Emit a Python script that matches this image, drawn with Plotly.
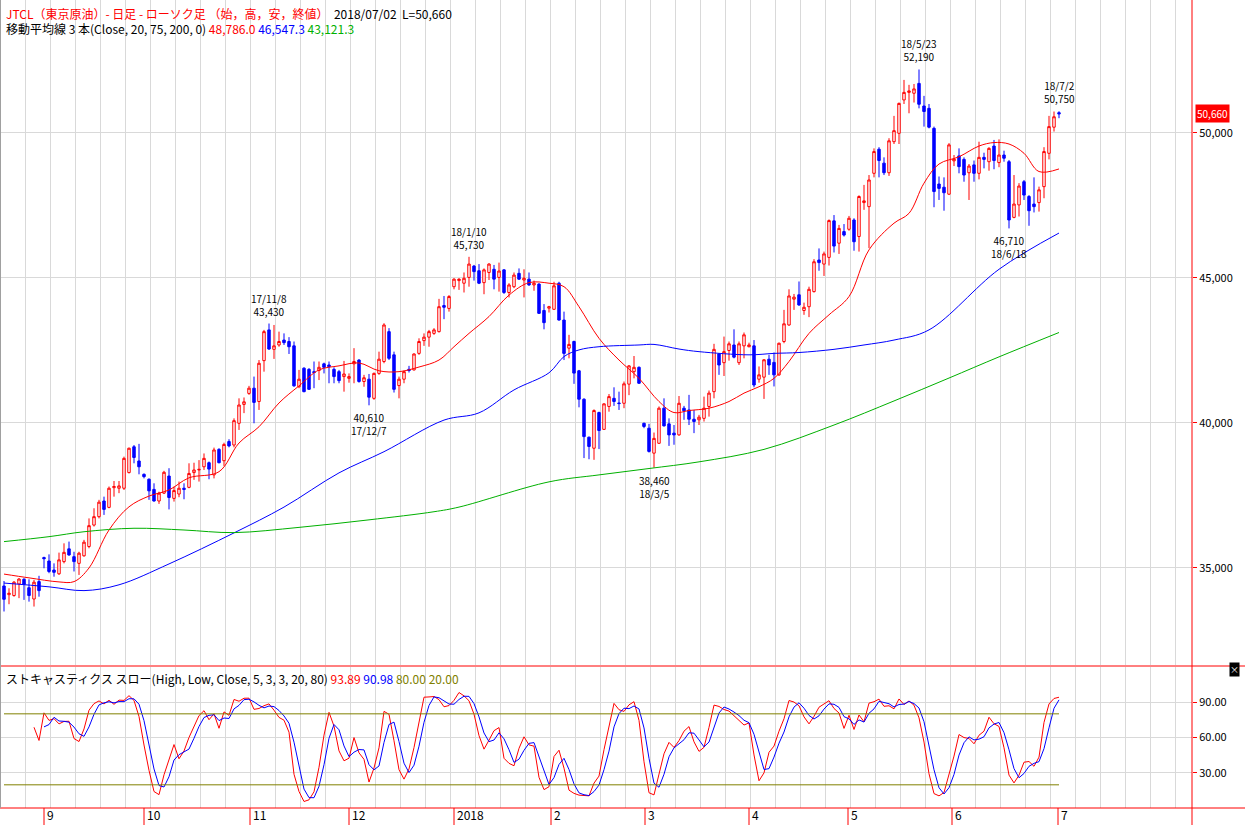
import numpy as np
import plotly.graph_objects as go

# --- daily candles (index 0 = 2017/08/21 ... last = 2018/07/02) ---
OPEN = [34380, 34080, 34050, 34450, 34610, 34320, 33930, 34530, 35360, 35240,
        34930, 34800, 35220, 35660, 35390, 35160, 35420, 35740, 36480, 36770,
        37310, 37090, 37770, 37750, 37750, 38290, 39180, 38690, 38230, 38060,
        37710, 37310, 37580, 38170, 37400, 37550, 37750, 37780, 38290, 38380,
        38490, 38630, 38210, 39090, 38700, 39360, 39240, 39990, 40640, 41020,
        41200, 40740, 42150, 43210, 42540, 42690, 42860, 42810, 42660, 41250,
        41890, 41850, 41770, 41810, 42040, 42000, 41850, 41770, 41600, 41540,
        42040, 42170, 41430, 41510, 40850, 41710, 42120, 43150, 42350, 41290,
        41510, 41850, 41830, 42400, 42840, 42960, 43090, 43150, 44050, 43950,
        44700, 44910, 44820, 45020, 45410, 45250, 44840, 45190, 45300, 45020,
        45280, 44500, 44700, 45160, 44930, 44960, 44760, 44790, 43880, 43960,
        43920, 44820, 43550, 42580, 42810, 41800, 40820, 39510, 39130, 40360,
        39780, 40570, 40850, 40690, 40680, 41340, 41770, 41920, 39990, 39820,
        38960, 39300, 40510, 39970, 39650, 39590, 40510, 40450, 40130, 40110,
        40160, 40570, 41080, 42380, 42080, 42500, 42690, 42080, 42660, 42630,
        42660, 41510, 41580, 42200, 42090, 41660, 42810, 43380, 44270, 44420,
        43880, 44010, 44530, 45620, 45480, 45710, 46970, 46200, 46600, 46680,
        47000, 46430, 47600, 47460, 48610, 49440, 48960, 48630, 49700, 49990,
        51140, 51400, 51370, 51710, 50930, 50850, 50160, 48240, 48130, 47890,
        49040, 49210, 49090, 48630, 48900, 48610, 49160, 49010, 49550, 48980,
        49240, 49010, 47090, 47520, 48320, 47810, 47550, 47600, 48150, 49300,
        50200, 50700]
HIGH = [34550, 34300, 34550, 34650, 34650, 34610, 34590, 34730, 35390, 35470,
        35160, 35530, 35850, 35910, 35560, 35560, 35970, 36710, 37060, 37350,
        37460, 37810, 38000, 38000, 38840, 39150, 39240, 39280, 38260, 38090,
        37920, 37630, 38350, 38440, 37810, 37980, 37920, 38610, 38630, 38720,
        38950, 38670, 39150, 39130, 39320, 39440, 40160, 40850, 40880, 41280,
        41600, 42170, 43210, 43430, 43380, 43150, 43090, 42960, 42810, 41830,
        41920, 41890, 42120, 42120, 42080, 42120, 41920, 41830, 42140, 41710,
        42580, 42200, 41660, 41690, 41740, 42460, 43440, 43270, 42460, 41600,
        41810, 41970, 42400, 42920, 43090, 43210, 43270, 44280, 44380, 44410,
        44990, 44990, 45190, 45730, 45450, 45480, 45330, 45510, 45450, 45530,
        45300, 44820, 45190, 45330, 45300, 45190, 44910, 44820, 44100, 44040,
        44870, 44870, 43840, 43040, 42840, 41830, 40850, 39530, 40470, 40390,
        40680, 41000, 41230, 41080, 41430, 42000, 42310, 41950, 40010, 39970,
        39670, 40570, 40850, 40160, 39930, 40930, 40590, 40970, 40450, 40280,
        40910, 41120, 42730, 42410, 42980, 42810, 43230, 42810, 43120, 42770,
        42860, 41950, 42200, 42350, 42430, 42770, 43900, 44610, 44450, 44880,
        44150, 44700, 45650, 46020, 45910, 47020, 47170, 46830, 46860, 47140,
        47060, 47850, 48210, 48550, 49470, 49510, 49160, 49820, 50590, 51050,
        51830, 51660, 51690, 52190, 51280, 51000, 50220, 48500, 48470, 49650,
        49240, 49470, 49160, 48930, 49050, 49700, 49320, 49510, 49760, 49780,
        49390, 49070, 48550, 48270, 48380, 47860, 48470, 48150, 49510, 50590,
        50740, 50750]
LOW = [33500, 33750, 34010, 33960, 33900, 33840, 33670, 34010, 34990, 34820,
       34700, 34760, 35160, 35420, 34880, 34760, 35390, 35680, 36430, 36710,
       36830, 37060, 37460, 37580, 37690, 38260, 38610, 38230, 38090, 37350,
       37290, 37210, 37550, 37020, 37290, 37440, 37370, 37750, 38040, 37980,
       38380, 38060, 38090, 38610, 38520, 39160, 39160, 39760, 40340, 40970,
       39990, 40450, 41770, 42520, 42210, 42630, 42690, 42380, 41250, 41200,
       41060, 41140, 41200, 41480, 41710, 41370, 41370, 41370, 41080, 41390,
       41370, 41390, 41250, 40610, 40800, 41660, 42060, 42170, 41050, 40850,
       41370, 41740, 41810, 42350, 42660, 42630, 43040, 43120, 43580, 43840,
       44610, 44590, 44500, 44700, 44910, 44790, 44440, 44930, 44610, 44530,
       44450, 44330, 44650, 44930, 44330, 44730, 44560, 43760, 43230, 43810,
       43900, 43530, 42170, 42230, 41350, 40540, 38790, 38750, 38730, 39100,
       39760, 40390, 40590, 40450, 40510, 40960, 41540, 41350, 39820, 38980,
       38460, 39280, 39880, 39210, 39250, 39560, 40110, 39930, 39650, 39930,
       40050, 40220, 40850, 41660, 41620, 42150, 42230, 42000, 42230, 42610,
       41230, 41390, 40830, 41660, 41260, 41620, 42750, 43350, 43900, 44040,
       43730, 43650, 44500, 45250, 45070, 45430, 45880, 45830, 46430, 46630,
       45940, 45910, 47350, 46030, 48470, 48470, 48550, 48520, 49620, 49620,
       51000, 50680, 51050, 50850, 50220, 50160, 47440, 47690, 47320, 47860,
       48860, 48610, 48320, 47690, 48320, 48400, 48780, 48700, 48750, 48820,
       49010, 46710, 47060, 47120, 47690, 46800, 47260, 47290, 47750, 49090,
       50050, 50510]
CLOSE = [33920, 34130, 34510, 34620, 34440, 34050, 34510, 34220, 35320, 34880,
         34850, 35280, 35540, 35450, 35220, 35510, 35890, 36460, 36770, 37270,
         37020, 37750, 37810, 37830, 38780, 39130, 38810, 38490, 38150, 37660,
         37310, 37580, 38300, 37430, 37670, 37750, 37710, 38260, 38380, 38400,
         38780, 38410, 39070, 38630, 39260, 39210, 40080, 40620, 40730, 41200,
         40710, 42060, 43150, 42550, 42660, 42810, 42770, 42630, 41280, 41510,
         41080, 41160, 41740, 41920, 41920, 41940, 41600, 41460, 41690, 41600,
         42120, 41430, 41560, 40890, 41710, 42200, 43380, 42230, 41160, 41510,
         41770, 41810, 42380, 42810, 42960, 43150, 43210, 44010, 43990, 44360,
         44960, 44960, 44990, 45480, 45220, 44820, 45280, 45480, 44960, 45240,
         44500, 44760, 45100, 44960, 44990, 44760, 44820, 43780, 43460, 44010,
         44730, 43550, 42400, 42710, 41720, 40820, 39530, 39190, 40430, 39740,
         40660, 40910, 40740, 40670, 41350, 41970, 41920, 41370, 39880, 39020,
         39470, 40510, 39900, 39590, 39590, 40680, 40420, 40130, 40050, 40200,
         40510, 41030, 42540, 42000, 42460, 42730, 42270, 42730, 43040, 42690,
         41310, 41660, 42180, 42000, 41660, 42750, 43420, 44380, 44340, 44070,
         43990, 44610, 45560, 45530, 45830, 46980, 46100, 46710, 46480, 47060,
         46250, 47810, 47660, 48380, 49360, 49050, 48630, 49730, 50080, 51020,
         51400, 51450, 51520, 50990, 50740, 50200, 47980, 48090, 47940, 49590,
         49100, 48840, 48550, 48860, 48610, 49160, 49090, 49470, 49050, 49240,
         49130, 47000, 47550, 48170, 47860, 47320, 47460, 48040, 49360, 50220,
         50560, 50660]

# --- moving averages (candle index, value) ---
MA20_IDX = [0, 5, 11, 14, 17, 21, 25, 29, 33, 37, 43, 47, 51, 55, 59, 63, 67, 71, 75, 79,
            83, 87, 90, 93, 97, 101, 105, 109, 112, 115, 119, 123, 127, 131, 134, 137,
            141, 145, 148, 151, 154, 157, 161, 165, 169, 173, 178, 181, 184, 187, 191,
            195, 198, 201, 204, 207, 211]
MA20_VAL = [34790, 34660, 34520, 34530, 35000, 36310, 37110, 37480, 37690, 38110,
            38320, 39310, 39870, 40690, 41280, 41830, 41970, 42070, 41800, 41770,
            41930, 42170, 42630, 43090, 43670, 44410, 44840, 44820, 44700, 44010,
            42920, 42170, 41540, 40740, 40360, 40430, 40510, 40740, 41030, 41250,
            41540, 42120, 43090, 43730, 44360, 45970, 46890, 47230, 48270, 48930,
            49180, 49550, 49670, 49620, 49300, 48670, 48760]
MA75_IDX = [0, 9, 16, 23, 33, 46, 56, 67, 76, 88, 95, 102, 109, 112, 115, 119, 127, 130,
            135, 139, 149, 154, 159, 166, 172, 178, 185, 199, 211]
MA75_VAL = [34480, 34350, 34220, 34420, 35140, 36210, 37100, 38280, 39010, 40100,
            40350, 41140, 41730, 42290, 42520, 42630, 42690, 42710, 42550, 42460,
            42350, 42400, 42430, 42540, 42690, 42860, 43210, 45300, 46550]
MA200_IDX = [0, 9, 16, 26, 36, 46, 59, 73, 86, 91, 109, 119, 129, 139, 152, 166, 178,
             189, 199, 211]
MA200_VAL = [35910, 36080, 36250, 36370, 36310, 36220, 36400, 36660, 36940, 37100,
             37970, 38210, 38430, 38660, 39090, 39930, 40760, 41550, 42280, 43120]

# --- labels ---
MONTH_LABELS = ["9", "10", "11", "12", "2018", "2", "3", "4", "5", "6", "7"]
MONTH_IDX = [8, 28, 49.2, 69, 90, 109.4, 128.2, 149, 168.8, 189.6, 210.8]
PEAKS = [  # (candle index, date, value, above?)
    (53, "17/11/8", "43,430", True),
    (73, "17/12/7", "40,610", False),
    (93, "18/1/10", "45,730", True),
    (130, "18/3/5", "38,460", False),
    (183, "18/5/23", "52,190", True),
    (201, "18/6/18", "46,710", False),
    (211, "18/7/2", "50,750", True),
]

W, H = 1245, 825
FONT = "Noto Sans CJK JP"
GRID = "#d9d9d9"
n = len(CLOSE)
x = np.arange(n)
Y_RANGE = [31655, 54586]
MAIN_TOP, MAIN_BOT = 0, 665  # pixel rows of the price panel

# slow stochastic (5, 3, 3)
hi = np.array(HIGH, float); lo = np.array(LOW, float); cl = np.array(CLOSE, float)
num = np.full(n, np.nan); den = np.full(n, np.nan)
for i in range(4, n):
    ll = lo[i - 4:i + 1].min(); hh = hi[i - 4:i + 1].max()
    num[i] = cl[i] - ll; den[i] = hh - ll
pct_d = np.full(n, np.nan)
for i in range(6, n):
    pct_d[i] = 100 * num[i - 2:i + 1].sum() / den[i - 2:i + 1].sum()
slow_d = np.full(n, np.nan)
for i in range(8, n):
    slow_d[i] = pct_d[i - 2:i + 1].mean()

fig = go.Figure()
fig.add_trace(go.Candlestick(
    x=x, open=OPEN, high=HIGH, low=LOW, close=CLOSE,
    increasing=dict(line=dict(color="#ff0000", width=1), fillcolor="#ffffff"),
    decreasing=dict(line=dict(color="#0000ff", width=1), fillcolor="#0000ff"),
    whiskerwidth=0, showlegend=False, hoverinfo="skip",
))
for idx, val, col in [(MA20_IDX, MA20_VAL, "#ff0000"), (MA75_IDX, MA75_VAL, "#0000ff"),
                      (MA200_IDX, MA200_VAL, "#00b000")]:
    fig.add_trace(go.Scatter(x=idx, y=val, mode="lines", line=dict(color=col, width=1, shape="spline"),
                             showlegend=False, hoverinfo="skip"))

fig.add_trace(go.Scatter(x=x, y=pct_d, mode="lines", line=dict(color="#ff0000", width=1),
                         xaxis="x2", yaxis="y2", showlegend=False, hoverinfo="skip"))
fig.add_trace(go.Scatter(x=x, y=slow_d, mode="lines", line=dict(color="#0000ff", width=1),
                         xaxis="x2", yaxis="y2", showlegend=False, hoverinfo="skip"))
for lvl in (80, 20):
    fig.add_trace(go.Scatter(x=[0, n - 1], y=[lvl, lvl], mode="lines",
                             line=dict(color="#808000", width=1),
                             xaxis="x2", yaxis="y2", showlegend=False, hoverinfo="skip"))

xd = [0, 1192 / W]
xr = [-0.8, 237.6]
xcommon = dict(range=xr, domain=xd, showgrid=True, gridcolor=GRID, gridwidth=1,
               tick0=4.2, dtick=5, showticklabels=False, zeroline=False, ticks="")
fig.update_layout(
    width=W, height=H, margin=dict(l=0, r=0, t=0, b=0),
    paper_bgcolor="white", plot_bgcolor="white",
    font=dict(family=FONT, size=11, color="black"),
    xaxis=dict(**xcommon, rangeslider=dict(visible=False)),
    yaxis=dict(domain=[1 - MAIN_BOT / H, 1], range=Y_RANGE, side="right",
               tickvals=[35000, 40000, 45000, 50000], tickformat=",",
               showgrid=True, gridcolor=GRID, zeroline=False,
               ticks="outside", ticklen=4, tickcolor="#ff0000",
               tickfont=dict(family=FONT, size=11)),
    xaxis2=dict(**xcommon, anchor="y2"),
    yaxis2=dict(domain=[(H - 808) / H, (H - 667) / H], range=[0.4, 119.6], side="right",
                anchor="x2", tickvals=[30, 60, 90], tickformat=".2f",
                showgrid=True, gridcolor=GRID, zeroline=False,
                ticks="outside", ticklen=4, tickcolor="#ff0000",
                tickfont=dict(family=FONT, size=11)),
)

# paper y of last close (the price box sits outside the plot area)
frac = (CLOSE[-1] - Y_RANGE[0]) / (Y_RANGE[1] - Y_RANGE[0])
last_py = (1 - MAIN_BOT / H) + frac * (MAIN_BOT - MAIN_TOP) / H

shapes = []
red = dict(color="#ff0000", width=1)
shapes.append(dict(type="line", xref="paper", yref="paper", x0=0, x1=1,
                   y0=1 - 666 / H, y1=1 - 666 / H, line=red))
shapes.append(dict(type="line", xref="paper", yref="paper", x0=0, x1=1,
                   y0=1 - 808 / H, y1=1 - 808 / H, line=red))
shapes.append(dict(type="line", xref="paper", yref="paper", x0=1192 / W, x1=1192 / W,
                   y0=0, y1=1, line=red))
shapes.append(dict(type="line", xref="paper", yref="paper", x0=0.5 / W, x1=0.5 / W,
                   y0=1 - 808 / H, y1=1, line=dict(color="#a0a0a0", width=1)))
for mi in MONTH_IDX:
    shapes.append(dict(type="line", xref="x", yref="paper", x0=mi, x1=mi,
                       y0=0, y1=1 - 808 / H, line=red))
fig.update_layout(shapes=shapes)

ann = []
for lab, mi in zip(MONTH_LABELS, MONTH_IDX):
    ann.append(dict(x=mi, xref="x", y=0, yref="paper", text=lab, showarrow=False,
                    xanchor="left", yanchor="bottom", xshift=1, yshift=0,
                    font=dict(size=12, family=FONT)))
for idx, d, v, above in PEAKS:
    if above:
        ann.append(dict(x=idx, y=HIGH[idx], text=f"{d}<br>{v}", showarrow=False,
                        yanchor="bottom", yshift=3, font=dict(size=10, family=FONT)))
    else:
        ann.append(dict(x=idx, y=LOW[idx], text=f"{v}<br>{d}", showarrow=False,
                        yanchor="top", yshift=-3, font=dict(size=10, family=FONT)))
ann.append(dict(x=1195 / W, xref="paper", y=last_py, yref="paper", text=f"{CLOSE[-1]:,}",
                xanchor="left", yanchor="middle", showarrow=False, bgcolor="#ff0000", borderpad=1,
                font=dict(color="white", size=10, family=FONT)))
ann.append(dict(x=4 / W, xref="paper", y=1 - 3 / H, yref="paper", xanchor="left", yanchor="top",
                showarrow=False, align="left", font=dict(size=12, family=FONT),
                text="<span style='color:#ff0000'>JTCL（東京原油）- 日足 - ローソク足 （始，高，安，終値）</span>"
                     "  2018/07/02  L=50,660"))
ann.append(dict(x=4 / W, xref="paper", y=1 - 18 / H, yref="paper", xanchor="left", yanchor="top",
                showarrow=False, align="left", font=dict(size=12, family=FONT),
                text="移動平均線 3 本(Close, 20, 75, 200, 0) "
                     "<span style='color:#ff0000'>48,786.0</span> "
                     "<span style='color:#0000ff'>46,547.3</span> "
                     "<span style='color:#00b000'>43,121.3</span>"))
ann.append(dict(x=4 / W, xref="paper", y=1 - 668 / H, yref="paper", xanchor="left", yanchor="top",
                showarrow=False, align="left", font=dict(size=12, family=FONT),
                text="ストキャスティクス スロー(High, Low, Close, 5, 3, 3, 20, 80) "
                     "<span style='color:#ff0000'>93.89</span> "
                     "<span style='color:#0000ff'>90.98</span> "
                     "<span style='color:#808000'>80.00</span> "
                     "<span style='color:#808000'>20.00</span>"))
ann.append(dict(x=1240 / W, xref="paper", y=1 - 677 / H, yref="paper", showarrow=False,
                text="×", bgcolor="black", font=dict(color="white", size=9), borderpad=0))
fig.update_layout(annotations=ann)

fig.write_html("out.html", config={"displayModeBar": False},
               post_script="document.body.style.margin='0';")
